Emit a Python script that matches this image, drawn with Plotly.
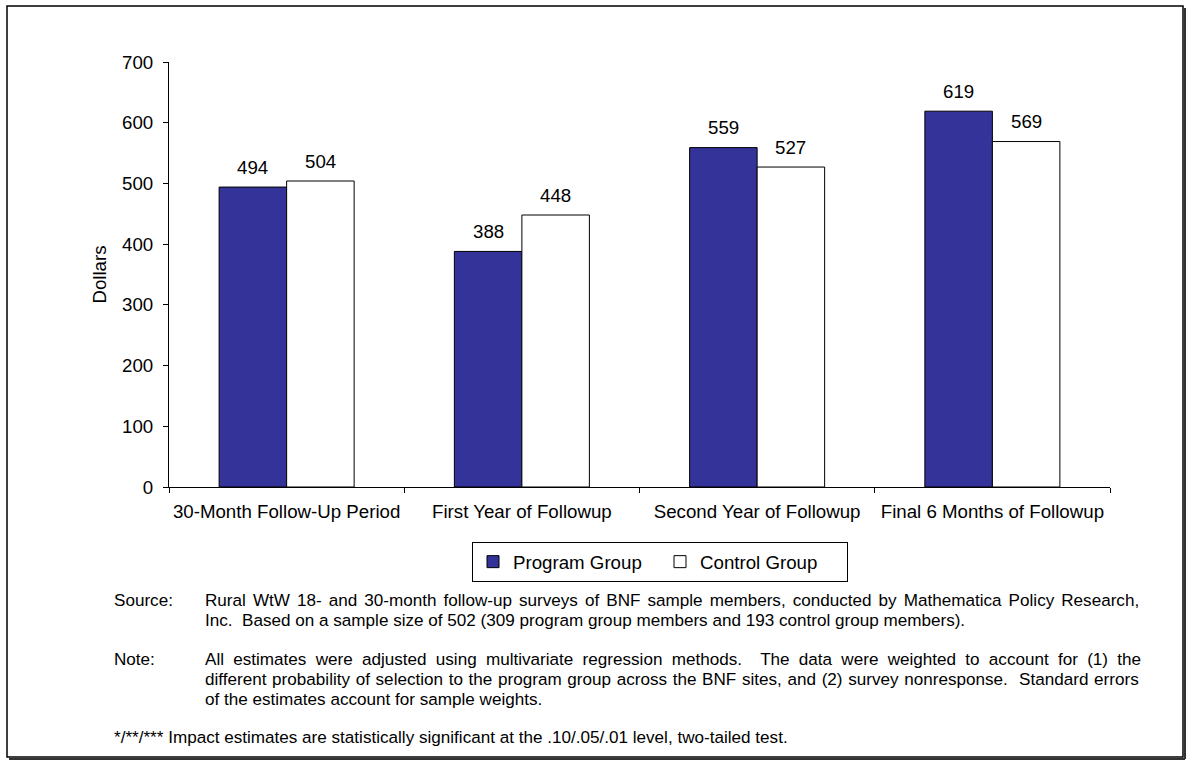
import plotly.graph_objects as go

# chart data
categories = ["30-Month Follow-Up Period", "First Year of Followup",
              "Second Year of Followup", "Final 6 Months of Followup"]
program_group = [494, 388, 559, 619]
control_group = [504, 448, 527, 569]
y_ticks = [0, 100, 200, 300, 400, 500, 600, 700]

source_lines = [
    "Rural WtW 18- and 30-month follow-up surveys of BNF sample members, conducted by Mathematica Policy Research,",
    "Inc.  Based on a sample size of 502 (309 program group members and 193 control group members).",
]
note_lines = [
    "All estimates were adjusted using multivariate regression methods.  The data were weighted to account for (1) the",
    "different probability of selection to the program group across the BNF sites, and (2) survey nonresponse.  Standard errors",
    "of the estimates account for sample weights.",
]
signif_line = "*/**/*** Impact estimates are statistically significant at the .10/.05/.01 level, two-tailed test."

FONT = "Arial, Liberation Sans, sans-serif"
W, H = 1187, 762
L, R, T, B = 169, 1110, 62, 487
BAR_OFFSET = 33.8  # px from category centre to each bar centre


def px(x):
    return (x - L) / (R - L)


def py(y):
    return (B - y) / (B - T)


fig = go.Figure()
fig.add_trace(go.Bar(
    x=categories, y=program_group, name="Program Group",
    marker=dict(color="#333399", line=dict(color="black", width=1)),
))
fig.add_trace(go.Bar(
    x=categories, y=control_group, name="Control Group",
    marker=dict(color="white", line=dict(color="black", width=1)),
))

# value labels above the bars
for series, shift in ((program_group, -BAR_OFFSET), (control_group, BAR_OFFSET)):
    for cat, val in zip(categories, series):
        fig.add_annotation(x=cat, y=val, xref="x", yref="y", text=str(val),
                           showarrow=False, xshift=shift, yshift=20,
                           yanchor="middle", font=dict(size=18.7, color="black"))

fig.update_layout(
    width=W, height=H,
    margin=dict(l=L, r=W - R, t=T, b=H - B, pad=0),
    paper_bgcolor="white", plot_bgcolor="white",
    font=dict(family=FONT, size=18.7, color="black"),
    barmode="group", bargap=0.426, bargroupgap=0,
    showlegend=True,
    legend=dict(
        orientation="h", x=px(660), xanchor="center", y=py(542), yanchor="top",
        bordercolor="black", borderwidth=1, font=dict(size=18.7),
        entrywidth=142, traceorder="normal",
    ),
    xaxis=dict(
        showline=True, linecolor="black", linewidth=1, tickangle=0,
        ticks="outside", tickson="boundaries", ticklen=5, tickcolor="black",
        ticklabelstandoff=8, showgrid=False,
    ),
    yaxis=dict(
        range=[0, 700], tickvals=y_ticks, showline=True, linecolor="black", linewidth=1,
        ticks="outside", ticklen=5, tickcolor="black", ticklabelstandoff=6,
        showgrid=False, zeroline=False,
        title=dict(text="Dollars", font=dict(size=18.7), standoff=10),
    ),
)

# outer frame with a small drop shadow
fig.add_shape(type="rect", xref="paper", yref="paper",
              x0=px(7), x1=px(1183), y0=py(757), y1=py(6),
              line=dict(color="black", width=1.5), layer="below")
fig.add_shape(type="line", xref="paper", yref="paper",
              x0=px(9), x1=px(1185), y0=py(759), y1=py(759),
              line=dict(color="#333", width=2))
fig.add_shape(type="line", xref="paper", yref="paper",
              x0=px(1185), x1=px(1185), y0=py(8), y1=py(759),
              line=dict(color="#333", width=2))


def note(x, y, text, spacing=0):
    if spacing:
        text = '<span style="word-spacing:%.1fpx">%s</span>' % (spacing, text)
    fig.add_annotation(xref="paper", yref="paper", x=px(x), y=py(y),
                       xanchor="left", yanchor="middle", showarrow=False,
                       text=text, font=dict(size=17.1, color="black"))


# footnote block; full lines are spread out to mimic justified text
BODY_X = 203
note(112, 600, "Source:")
note(BODY_X, 600, source_lines[0], 2.3)
note(BODY_X, 620, source_lines[1])
note(112, 659, "Note:")
note(BODY_X, 659, note_lines[0], 4.5)
note(BODY_X, 679, note_lines[1], 0.9)
note(BODY_X, 699, note_lines[2])
note(112, 737, signif_line)

fig.write_html("out.html", config={"displayModeBar": False},
               post_script="document.body.style.margin='0';document.body.style.overflow='hidden';")
